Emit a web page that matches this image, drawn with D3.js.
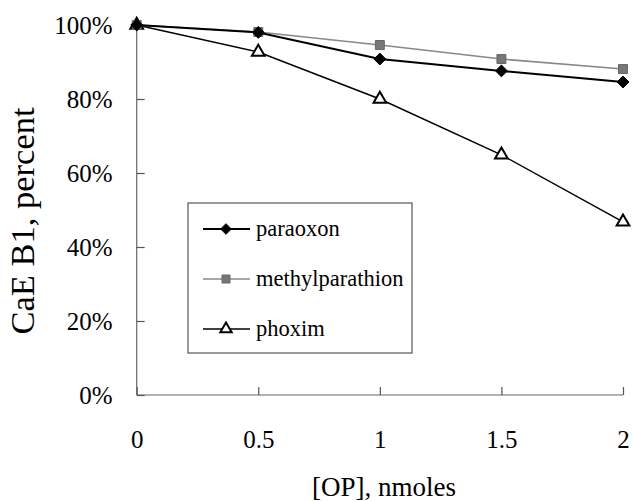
<!DOCTYPE html>
<html lang="en">
<head>
<meta charset="UTF-8">
<title>CaE B1 inhibition</title>
<script src="https://cdn.jsdelivr.net/npm/d3@7"></script>
<style>
  body { margin: 0; background: white; }
  svg text { font-family: "Liberation Serif", "Times New Roman", serif !important; fill: #000; }
</style>
</head>
<body>
<div id="chart"></div>
<script>
// data
const doses = [0, 0.5, 1, 1.5, 2];
const paraoxon = [100, 98, 90.8, 87.6, 84.6];
const methylparathion = [100, 98.1, 94.6, 90.8, 88.1];
const phoxim = [100, 92.7, 80, 64.9, 46.8];
const xTicks = [0, 0.5, 1, 1.5, 2];
const yTicks = [0, 20, 40, 60, 80, 100];
const seriesNames = ['paraoxon', 'methylparathion', 'phoxim'];

const w = 633, h = 501;
const x = d3.scaleLinear().domain([0, 2]).range([136.7, 623]);
const y = d3.scaleLinear().domain([0, 100]).range([395, 25]);

const svg = d3.select('#chart').append('svg')
  .attr('width', w)
  .attr('height', h);

// axes - ticks pointing inside the plot
const xAxis = d3.axisBottom(x).tickValues(xTicks).tickSize(-8)
  .tickFormat(d3.format('~g'));
const yAxis = d3.axisLeft(y).tickValues(yTicks).tickSize(-8).tickPadding(24)
  .tickFormat(d => d + '%');

const gx = svg.append('g').attr('transform', `translate(0,${y(0)})`).call(xAxis);
const gy = svg.append('g').attr('transform', `translate(${x(0)},0)`).call(yAxis);

[gx, gy].forEach(g => {
  g.attr('font-size', 25);
  g.select('.domain').attr('stroke', '#666').attr('stroke-width', 1.2);
  g.selectAll('.tick line').attr('stroke', '#555').attr('stroke-width', 1.2);
});
gx.select('.domain').attr('d', `M${x(0)},0H${x(2)}`);
gy.select('.domain').attr('d', `M0,${y(100)}V${y(0)}`);
gx.selectAll('.tick text').attr('y', 53).attr('dy', 0);

// axis titles
svg.append('text')
  .attr('x', 384).attr('y', 496)
  .attr('text-anchor', 'middle')
  .attr('font-size', 27)
  .text('[OP], nmoles');

svg.append('text')
  .attr('transform', 'translate(34,221) rotate(-90)')
  .attr('text-anchor', 'middle')
  .attr('font-size', 34.5)
  .text('CaE B1, percent');

const series = [
  { name: seriesNames[0], values: paraoxon, stroke: '#000', width: 2, symbol: d3.symbolDiamond2, size: 90, fill: '#000', mstroke: '#000' },
  { name: seriesNames[1], values: methylparathion, stroke: '#888', width: 1.6, symbol: d3.symbolSquare, size: 80, fill: '#777', mstroke: '#666' },
  { name: seriesNames[2], values: phoxim, stroke: '#000', width: 1.5, symbol: d3.symbolTriangle, size: 70, fill: '#fff', mstroke: '#000' }
];

const line = d3.line().x((d, i) => x(doses[i])).y(d => y(d));

// draw in reverse so paraoxon sits on top
series.slice().reverse().forEach(s => {
  svg.append('path')
    .attr('d', line(s.values))
    .attr('fill', 'none')
    .attr('stroke', s.stroke)
    .attr('stroke-width', s.width);
  svg.selectAll(null)
    .data(s.values)
    .enter()
    .append('path')
    .attr('transform', (d, i) => `translate(${x(doses[i])},${y(d)})`)
    .attr('d', d3.symbol().type(s.symbol).size(s.size))
    .attr('fill', s.fill)
    .attr('stroke', s.mstroke)
    .attr('stroke-width', s.symbol === d3.symbolTriangle ? 2 : 1);
});

// legend
const legend = svg.append('g').attr('transform', 'translate(188,203)');
legend.append('rect')
  .attr('width', 224).attr('height', 150)
  .attr('fill', '#fff')
  .attr('stroke', '#555')
  .attr('stroke-width', 1.2);

series.forEach((s, i) => {
  const yy = 26 + i * 50;
  legend.append('line')
    .attr('x1', 15).attr('x2', 62)
    .attr('y1', yy).attr('y2', yy)
    .attr('stroke', s.stroke)
    .attr('stroke-width', s.width);
  legend.append('path')
    .attr('transform', `translate(38,${yy})`)
    .attr('d', d3.symbol().type(s.symbol).size(s.size * 0.8))
    .attr('fill', s.fill)
    .attr('stroke', s.mstroke)
    .attr('stroke-width', s.symbol === d3.symbolTriangle ? 2 : 1);
  legend.append('text')
    .attr('x', 68).attr('y', yy + 7)
    .attr('font-size', 22.5)
    .text(s.name);
});
</script>
</body>
</html>
